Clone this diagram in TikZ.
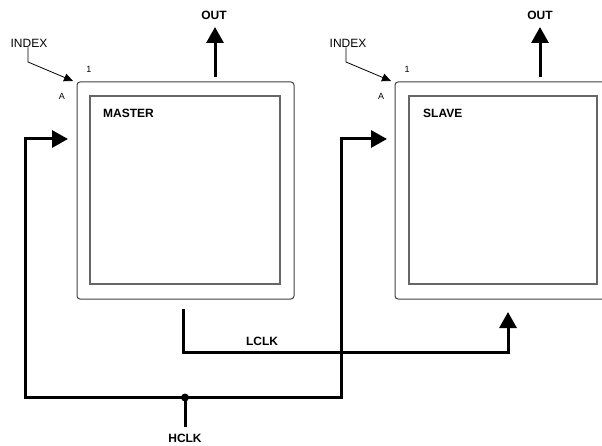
\documentclass[tikz,border=0pt]{standalone}
\usepackage{fontspec}
\setmainfont{Liberation Sans}
\usetikzlibrary{arrows.meta}

\tikzset{
  outerbox/.style={draw=black!75, line width=1pt, rounded corners=3pt, inner sep=0pt},
  innerbox/.style={draw=black!60, line width=1.3pt, inner sep=0pt},
  bus/.style={line width=3pt},
  bigtip/.style={-{Triangle[length=16pt,width=17pt]}},
  idxtip/.style={line width=0.8pt, -{Triangle[length=9pt,width=8pt]}},
  lbl/.style={font=\fontsize{12}{14}\selectfont\bfseries, inner sep=0pt},
  thinlbl/.style={font=\fontsize{12}{14}\selectfont, inner sep=0pt},
  pinlbl/.style={font=\fontsize{9}{10}\selectfont, inner sep=0pt}
}

\begin{document}
\begin{tikzpicture}[x=1pt,y=-1pt]
\clip (0,0) rectangle (602,446);

% boxes
\node[outerbox, minimum width=217pt, minimum height=217pt] (mst) at (185.5,190.5) {};
\node[innerbox, minimum width=190pt, minimum height=188pt] (mstin) at (185,190) {};
\node[outerbox, minimum width=216pt, minimum height=217pt] (slv) at (503,190.5) {};
\node[innerbox, minimum width=188pt, minimum height=188pt] (slvin) at (503,190) {};

\node[lbl, anchor=west] (mstname) at (103,113) {MASTER};
\node[lbl, anchor=west] (slvname) at (423,113) {SLAVE};

% index marks
\node[thinlbl] (mstidx) at (29,43) {INDEX};
\node[thinlbl] (slvidx) at (348,43) {INDEX};
\node[pinlbl] (mstone) at (89,69) {1};
\node[pinlbl] (mstA) at (62,96) {A};
\node[pinlbl] (slvone) at (407,69) {1};
\node[pinlbl] (slvA) at (381,96) {A};
\coordinate (mstcorner) at (73,81);
\coordinate (slvcorner) at (391,81);
\draw[idxtip] (mstidx.south -| 28,0) -- (28,62) -- (mstcorner);
\draw[idxtip] (slvidx.south -| 346,0) -- (346,62) -- (slvcorner);

% outputs
\node[lbl] (mstout) at (214,15) {OUT};
\node[lbl] (slvout) at (540,15) {OUT};
\coordinate (msttop) at (215,77);
\coordinate (slvtop) at (540,77);
\path[bus, bigtip] (msttop) edge (215,27);
\path[bus, bigtip] (slvtop) edge (540,27);

% LCLK
\coordinate (lclkout) at (183.5,308.5);
\coordinate (lclkin) at (508,312);
\draw[bus, bigtip] (lclkout) -- (183.5,352) -| (lclkin);
\node[lbl] (lclk) at (262,341) {LCLK};

% HCLK
\node[circle, fill=black, minimum size=8pt, inner sep=0pt] (jn) at (185,397.5) {};
\coordinate (hclkin) at (185,427);
\node[lbl] (hclk) at (185,438.5) {HCLK};
\coordinate (mstclk) at (68,139);
\coordinate (slvclk) at (387,139);
\draw[bus] (hclkin) -- (jn.center);
\draw[bus, bigtip] (jn.center) -- (25.5,397.5) |- (mstclk);
\draw[bus, bigtip] (jn.center) -- (341.5,397.5) |- (slvclk);

\end{tikzpicture}
\end{document}
